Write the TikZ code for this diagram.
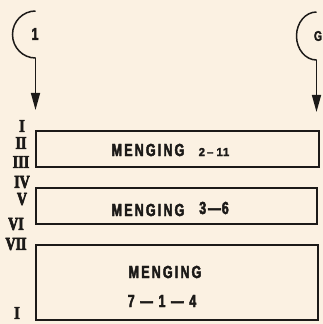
\documentclass[tikz,border=0pt]{standalone}
\usepackage{fontspec}
\usetikzlibrary{arrows.meta}
\newfontfamily\cond[FakeStretch=0.72,LetterSpace=12,FakeBold=2.5]{Liberation Sans Bold}
\newfontfamily\numf[LetterSpace=6,FakeBold=2]{Liberation Sans Bold}
\newfontfamily\romf[FakeStretch=0.78,FakeBold=3.5]{Liberation Serif Bold}
\newfontfamily\labf[FakeStretch=0.75,FakeBold=2.5]{Liberation Sans Bold}
\definecolor{paper}{HTML}{FBF1E2}
\definecolor{ink}{HTML}{1C1A18}
\begin{document}
\begin{tikzpicture}[x=1pt,y=1pt,
  box/.style={draw=ink,line width=1.3pt,inner sep=0pt},
  menging/.style={font=\cond\fontsize{17.5}{18}\selectfont,text=ink,inner sep=0pt},
  smallnum/.style={font=\numf\fontsize{11.5}{12}\selectfont,text=ink,inner sep=0pt},
  roman/.style={font=\romf\fontsize{18}{18}\selectfont,text=ink,inner sep=0pt},
  symlabel/.style={font=\labf\fontsize{17}{17}\selectfont,text=ink,inner sep=0pt},
  sym/.style={draw=ink,line width=1.5pt},
  arr/.style={sym,-{Triangle[width=9pt,length=17pt]}}]
\useasboundingbox (0,0) rectangle (323,324);
\fill[paper] (0,0) rectangle (323,324);
\clip (0,0) rectangle (323,324);

% boxes
\node[box,minimum width=283pt,minimum height=36pt] (b1) at (177.5,175) {};
\node[box,minimum width=281pt,minimum height=36pt] (b2) at (176.5,118) {};
\node[box,minimum width=282pt,minimum height=75pt] (b3) at (177,41.5) {};

% texts
\node[menging] (t1a) at (148,174) {MENGING};
\node[smallnum] (t1b) at (214,172) {2\hspace{2pt}\textendash\hspace{3pt}11};
\node[menging] (t2a) at (148,114) {MENGING};
\node[menging] (t2b) at (214,116) {3\hspace{2pt}—\hspace{1pt}6};
\node[menging] (t3a) at (165,52) {MENGING};
\node[menging] (t3b) at (162,23) {7 — 1 — 4};

% roman numerals
\node[roman] (r1) at (22,198) {I};
\node[roman] (r2) at (21,181) {II};
\node[roman] (r3) at (21,162) {III};
\node[roman] (r4) at (22,142) {IV};
\node[roman] (r5) at (22,125) {V};
\node[roman] (r6) at (16,100) {VI};
\node[roman] (r7) at (16,80) {VII};
\node[roman] (r10) at (17,11) {I};

% symbol 1
\coordinate (s1top) at (35.5,313);
\coordinate (s1tip) at (35.5,214);
\draw[sym] (s1top) arc[start angle=90,end angle=270,x radius=23,y radius=23.5] coordinate (s1bot);
\draw[arr] (s1bot) -- (s1tip);
\node[symlabel] (l1) at (35,290) {1};

% symbol G
\coordinate (sgtop) at (316.5,312);
\coordinate (sgtip) at (316.5,212);
\draw[sym] (sgtop) arc[start angle=90,end angle=270,x radius=20,y radius=24] coordinate (sgbot);
\draw[arr] (sgbot) -- (sgtip);
\node[symlabel,font=\labf\fontsize{14}{14}\selectfont] (lg) at (318,288) {G};
\end{tikzpicture}
\end{document}
